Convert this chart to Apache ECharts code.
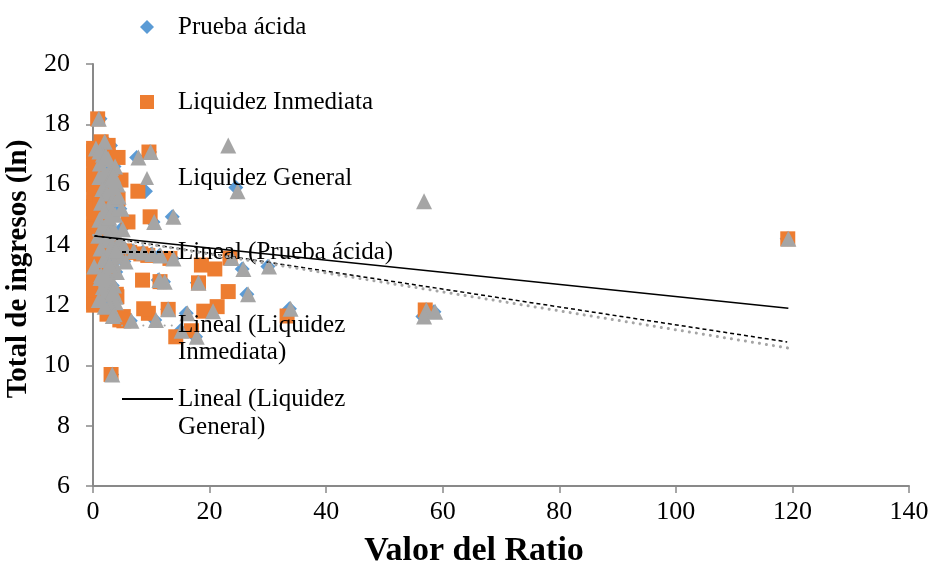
<!DOCTYPE html>
<html><head><meta charset="utf-8">
<script src="https://cdn.jsdelivr.net/npm/echarts@6/dist/echarts.min.js"></script>
<style>html,body{margin:0;padding:0;background:#fff}#c{width:931px;height:564px}</style>
</head><body><div id="c"></div>
<script>
// Total de ingresos (ln) per company
const ingresos = [18.18,17.42,17.20,17.00,16.85,16.70,16.55,16.40,16.25,16.15,16.00,15.85,15.70,15.52,15.40,15.27,15.12,15.00,14.83,14.72,14.60,14.45,14.30,14.15,14.00,13.88,13.75,13.62,13.50,13.40,13.28,13.15,13.00,12.90,12.75,12.60,12.45,12.28,12.17,12.10,11.70,
  17.10,16.95,16.60,16.30,15.60,15.20,14.90,14.52,14.38,14.08,13.95,13.82,13.45,13.10,12.85,12.65,12.35,12.00,
  17.08,17.30,16.90,15.78,15.90,15.45,14.93,14.76,14.20,13.80,13.75,13.70,13.65,13.55,13.56,13.33,13.20,13.28,12.83,12.78,12.74,12.45,12.36,11.86,11.80,11.95,11.73,11.88,11.64,11.84,11.62,11.78,11.48,11.51,10.95,11.15,9.70];
const liquidezInmediata = [0.8,1.4,0.1,0.2,0.1,0.5,0.1,0.3,0.1,4.8,0.1,0.4,0.1,4.3,0.2,0.1,0.6,0.1,0.2,0.3,0.1,0.8,0.1,0.4,0.1,0.2,1.5,0.1,0.3,0.1,0.1,0.6,0.1,0.2,1.0,0.1,0.3,4.1,0.2,0.1,2.4,
  0.1,2.6,0.2,0.1,1.9,0.1,2.4,0.1,1.8,0.1,2.9,0.1,0.2,2.2,0.1,1.6,0.1,0.1,
  9.6,2.6,4.3,7.7,1.8,1.2,9.8,6.0,119.2,5.4,6.3,8.2,9.4,13.2,23.5,18.6,20.9,1.0,8.5,11.5,18.1,23.2,4.0,12.9,19.0,21.3,9.5,8.7,33.3,57.0,5.2,2.8,5.3,4.6,14.2,16.9,3.1];
const pruebaAcida = [1.2,2.2,0.4,1.5,2.4,1.0,2.9,1.8,0.9,2.6,3.9,1.4,2.2,3.2,1.2,2.7,1.8,3.6,0.9,2.3,1.4,3.5,0.7,2.0,3.1,1.1,2.6,4.4,1.6,3.4,0.1,2.1,1.2,1.1,2.8,1.5,2.3,3.7,0.8,3.7,3.5,
  0.9,2.0,3.6,3.3,4.1,4.6,2.6,4.8,2.4,4.2,5.0,3.7,5.3,3.9,2.0,3.3,1.8,2.7,
  9.7,3.0,7.5,9.0,24.5,2.5,13.6,10.3,119.1,6.8,8.5,10.0,11.4,13.6,23.6,2.6,25.6,30.0,11.2,12.1,17.9,3.4,26.4,12.8,20.4,1.8,16.0,33.7,3.2,57.1,56.6,58.5,6.4,10.6,17.6,15.0,3.2];
const liquidezGeneral = [1.0,2.0,0.5,1.7,2.6,1.2,3.1,2.0,1.1,2.8,4.2,1.6,2.4,3.4,1.4,2.9,2.0,3.8,1.1,2.5,1.6,3.7,0.9,2.2,3.3,1.3,2.8,4.7,1.8,3.6,0.2,2.3,1.4,1.3,3.0,1.7,2.5,3.9,1.0,3.9,3.7,
  1.1,2.2,3.8,3.5,4.4,4.9,2.8,5.1,2.6,4.4,5.3,3.9,5.6,4.1,2.2,3.6,2.0,2.9,
  9.9,23.2,7.8,24.8,3.4,56.8,13.8,10.5,119.3,7.0,8.7,10.2,11.6,13.8,23.8,2.8,25.8,30.2,11.4,12.3,18.1,3.5,26.6,12.9,20.6,2.0,16.2,33.9,3.4,57.2,56.8,58.7,6.6,10.8,17.8,15.2,3.3];
// Linear trend lines: [x, y] at each end
const trendPruebaAcida = [[0.1, 14.31], [119.1, 10.78]];
const trendLiquidezInmediata = [[0.1, 14.32], [119.2, 10.58]];
const trendLiquidezGeneral = [[0.2, 14.29], [119.3, 11.90]];
const xTicks = {min: 0, max: 140, interval: 20};
const yTicks = {min: 6, max: 20, interval: 2};

const pairs = xs => xs.map((x, i) => [x, ingresos[i]]);
const FONT = 'Liberation Serif';
const legTxt = {fontFamily: FONT, fontSize: 25, color: '#000', lineHeight: 28};
function leg(name, top, left, opts) {
  return Object.assign({
    data: [name], top: top, left: left, orient: 'vertical', padding: 0,
    itemWidth: 14, itemHeight: 14, selectedMode: false,
    textStyle: Object.assign({}, legTxt)
  }, opts || {});
}
const lineLeg = {itemWidth: 51, itemStyle: {opacity: 0}};

const chart = echarts.init(document.getElementById('c'));
chart.setOption({
  animation: false,
  backgroundColor: '#fff',
  grid: {left: 93, right: 22, top: 64, bottom: 78, containLabel: false, outerBoundsMode: 'none'},
  xAxis: {
    type: 'value', min: xTicks.min, max: xTicks.max, interval: xTicks.interval,
    name: 'Valor del Ratio', nameLocation: 'middle', nameGap: 48,
    nameTextStyle: {fontFamily: FONT, fontSize: 34, fontWeight: 'bold', color: '#000', padding: [0, 54, 0, 0]},
    axisLine: {show: true, lineStyle: {color: '#898989', width: 2}},
    axisTick: {show: true, length: 7, lineStyle: {color: '#898989', width: 1.5}},
    axisLabel: {fontFamily: FONT, fontSize: 26, color: '#000', margin: 13},
    splitLine: {show: false}
  },
  yAxis: {
    type: 'value', min: yTicks.min, max: yTicks.max, interval: yTicks.interval,
    name: 'Total de ingresos (ln)', nameLocation: 'middle', nameGap: 55, nameRotate: 90,
    nameTextStyle: {fontFamily: FONT, fontSize: 29, fontWeight: 'bold', color: '#000', padding: [0, 0, 0, 12]},
    axisLine: {show: true, lineStyle: {color: '#898989', width: 2}},
    axisTick: {show: true, length: 7, lineStyle: {color: '#898989', width: 1.5}},
    axisLabel: {fontFamily: FONT, fontSize: 26, color: '#000', margin: 23},
    splitLine: {show: false}
  },
  legend: [
    leg('Prueba ácida', 13, 140, {textStyle: Object.assign({}, legTxt, {padding: [0, 0, 0, 19]})}),
    leg('Liquidez Inmediata', 88, 140, {textStyle: Object.assign({}, legTxt, {padding: [0, 0, 0, 19]})}),
    leg('Liquidez General', 164, 140, {textStyle: Object.assign({}, legTxt, {padding: [0, 0, 0, 19]})}),
    leg('Lineal (Prueba ácida)', 238, 121, lineLeg),
    leg('Lineal (Liquidez Inmediata)', 285, 121, Object.assign({}, lineLeg, {formatter: '\nLineal (Liquidez\nInmediata)',
      textStyle: Object.assign({}, legTxt, {lineHeight: 27})})),
    leg('Lineal (Liquidez General)', 357, 121, Object.assign({}, lineLeg, {formatter: '\nLineal (Liquidez\nGeneral)',
      textStyle: Object.assign({}, legTxt, {lineHeight: 28})}))
  ],
  series: [
    {name: 'Prueba ácida', type: 'scatter', symbol: 'diamond', symbolSize: 15,
     itemStyle: {color: '#5B9BD5', opacity: 1}, data: pairs(pruebaAcida)},
    {name: 'Liquidez Inmediata', type: 'scatter', symbol: 'rect', symbolSize: 15,
     itemStyle: {color: '#ED7D31', opacity: 1}, data: pairs(liquidezInmediata)},
    {name: 'Liquidez General', type: 'scatter', symbol: 'triangle', symbolSize: 16,
     itemStyle: {color: '#A5A5A5', opacity: 1}, data: pairs(liquidezGeneral)},
    {name: 'Lineal (Prueba ácida)', type: 'line', symbol: 'none', z: 5,
     itemStyle: {color: '#000'},
     lineStyle: {color: '#000', width: 1.5, type: [4, 3]}, data: trendPruebaAcida},
    {name: 'Lineal (Liquidez Inmediata)', type: 'line', symbol: 'none', z: 5,
     itemStyle: {color: '#A5A5A5'},
     lineStyle: {color: '#A5A5A5', width: 3, type: [0.1, 7], cap: 'round'}, data: trendLiquidezInmediata},
    {name: 'Lineal (Liquidez General)', type: 'line', symbol: 'none', z: 5,
     itemStyle: {color: '#000'},
     lineStyle: {color: '#000', width: 1.5}, data: trendLiquidezGeneral}
  ]
});
</script></body></html>
